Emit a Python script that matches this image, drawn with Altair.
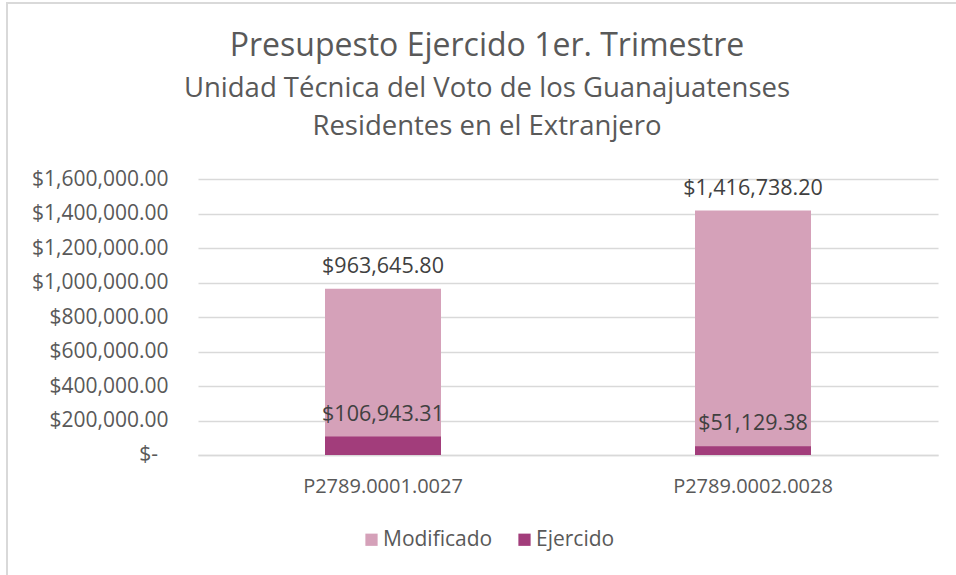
import altair as alt
import pandas as pd

categories = ["P2789.0001.0027", "P2789.0002.0028"]
modificado = [963645.80, 1416738.20]
ejercido = [106943.31, 51129.38]
series = ["Modificado", "Ejercido"]
colors = ["#D5A1B9", "#A23D7B"]
y_ticks = [0, 200000, 400000, 600000, 800000, 1000000, 1200000, 1400000, 1600000]
zero_label = ["$-"]
title_lines = ["Presupesto Ejercido 1er. Trimestre",
               "Unidad Técnica del Voto de los Guanajuatenses",
               "Residentes en el Extranjero"]

rows = []
for s, vals in zip(series, [modificado, ejercido]):
    for c, v in zip(categories, vals):
        rows.append({"Categoria": c, "Serie": s, "Valor": v})
df = pd.DataFrame(rows)

FONT = "Open Sans"
GRAY = "#595959"

x_enc = alt.X("Categoria:N", sort=categories, title=None,
              scale=alt.Scale(paddingInner=0, paddingOuter=0),
              axis=alt.Axis(labelAngle=0, labelFontSize=20, labelColor=GRAY, labelFont=FONT,
                            ticks=False, grid=False, domainColor="#D9D9D9", domainWidth=1.5,
                            labelPadding=21))
y_enc = alt.Y("Valor:Q", title=None, stack=None,
              scale=alt.Scale(domain=[0, 1600000], nice=False),
              axis=alt.Axis(values=y_ticks, tickCount=9, domain=False, ticks=False,
                            gridColor="#D9D9D9", gridWidth=1.5, labelFontSize=21,
                            labelColor=GRAY, labelFont=FONT, labelPadding=30,
                            labelOverlap=False,
                            labelExpr="datum.value == 0 ? '' : '$' + format(datum.value, ',.2f')"))
color_enc = alt.Color("Serie:N", scale=alt.Scale(domain=series, range=colors),
                      legend=alt.Legend(title=None, orient="none", direction="horizontal",
                                        legendX=163, legendY=350, symbolType="square",
                                        symbolSize=150, symbolStrokeWidth=0, labelFontSize=21,
                                        labelColor=GRAY, labelFont=FONT, labelOffset=1,
                                        columnPadding=21, padding=0))

base = alt.Chart(df)

bars_mod = base.transform_filter(alt.datum.Serie == "Modificado").mark_bar(size=116).encode(
    x=x_enc, y=y_enc, color=color_enc)
bars_eje = base.transform_filter(alt.datum.Serie == "Ejercido").mark_bar(size=116).encode(
    x=x_enc, y=y_enc, color=color_enc)

labels = base.transform_calculate(
    label="'$' + format(datum.Valor, ',.2f')"
).mark_text(baseline="alphabetic", dy=-16, fontSize=21.5, font=FONT, color="#404040").encode(
    x=x_enc, y=y_enc, text="label:N")

zero_df = pd.DataFrame({"Valor": [y_ticks[0]], "txt": zero_label})
zero_txt = alt.Chart(zero_df).mark_text(
    align="right", baseline="middle", fontSize=21, font=FONT, color=GRAY
).encode(x=alt.value(-40), y=alt.Y("Valor:Q"), text="txt:N")

one = pd.DataFrame({"a": [0]})
border = alt.Chart(one).mark_rect(
    fillOpacity=0, stroke="#D9D9D9", strokeWidth=2
).encode(x=alt.value(-191), x2=alt.value(800), y=alt.value(-176), y2=alt.value(500))

title_df = pd.DataFrame({"line": title_lines, "idx": [0, 1, 2]})
t_main = alt.Chart(title_df).transform_filter(alt.datum.idx == 0).mark_text(
    fontSize=32, font=FONT, color=GRAY, baseline="middle", align="center"
).encode(x=alt.value(289), y=alt.value(-133), text="line:N")
t_sub1 = alt.Chart(title_df).transform_filter(alt.datum.idx == 1).mark_text(
    fontSize=27.5, font=FONT, color=GRAY, baseline="middle", align="center"
).encode(x=alt.value(289), y=alt.value(-90), text="line:N")
t_sub2 = alt.Chart(title_df).transform_filter(alt.datum.idx == 2).mark_text(
    fontSize=27.5, font=FONT, color=GRAY, baseline="middle", align="center"
).encode(x=alt.value(289), y=alt.value(-52), text="line:N")

chart = alt.layer(border, bars_mod, bars_eje, labels, zero_txt, t_main, t_sub1, t_sub2).properties(
    width=740, height=276,
    background="white",
    autosize=alt.AutoSizeParams(type="none"),
    padding={"left": 198, "top": 179, "right": 18, "bottom": 120},
).configure_view(strokeWidth=0, stroke="transparent")

chart.save("out.html", embed_options={"renderer": "svg", "actions": False})
